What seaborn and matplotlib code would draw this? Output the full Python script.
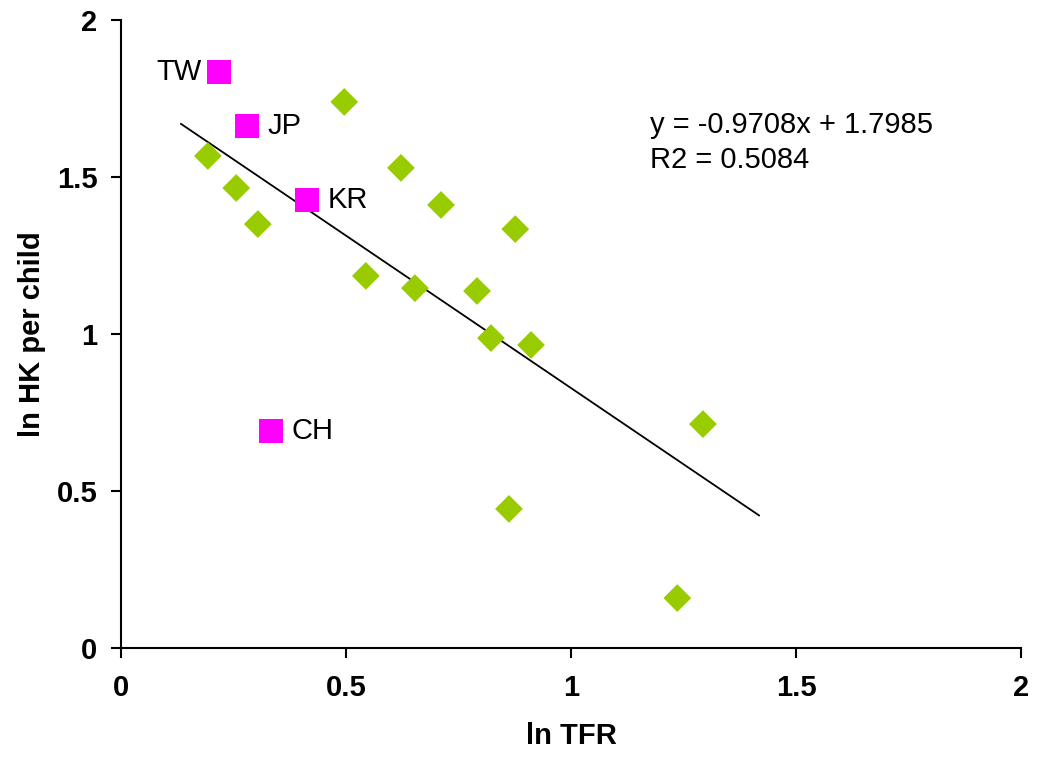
import numpy as np
import pandas as pd
import matplotlib
matplotlib.use("Agg")
import matplotlib.pyplot as plt
import seaborn as sns

# other countries (green diamonds)
other_tfr = [0.193, 0.256, 0.304, 0.496, 0.544, 0.622, 0.653, 0.711, 0.791,
             0.822, 0.876, 0.911, 0.862, 1.293, 1.236]
other_hk = [1.567, 1.465, 1.350, 1.739, 1.185, 1.529, 1.146, 1.411, 1.137,
            0.987, 1.334, 0.965, 0.443, 0.713, 0.159]

# east asian economies (pink squares)
asia_names = ['TW', 'JP', 'KR', 'CH']
asia_tfr = [0.218, 0.280, 0.413, 0.333]
asia_hk = [1.834, 1.662, 1.427, 0.691]

# linear trend as reported on the chart
slope, intercept, r2 = -0.9708, 1.7985, 0.5084
trend_x = [0.133, 1.418]

sns.set_style("white")
plt.rcParams['font.family'] = ['Liberation Sans', 'DejaVu Sans']
plt.rcParams['text.color'] = 'black'
plt.rcParams['axes.labelcolor'] = 'black'
plt.rcParams['xtick.color'] = 'black'
plt.rcParams['ytick.color'] = 'black'

fig = plt.figure(figsize=(10.37, 7.57), dpi=100)
ax = fig.add_axes([0.1167, 0.144, 0.868, 0.8296])

others = pd.DataFrame({'tfr': other_tfr, 'hk': other_hk})
asia = pd.DataFrame({'tfr': asia_tfr, 'hk': asia_hk, 'name': asia_names})
trend = pd.DataFrame({'x': trend_x, 'y': [slope * v + intercept for v in trend_x]})

sns.lineplot(data=trend, x='x', y='y', color='black', linewidth=1.3, ax=ax)
sns.scatterplot(data=others, x='tfr', y='hk', marker='D', s=200,
                color='#99CC00', edgecolor='none', ax=ax, zorder=3)
sns.scatterplot(data=asia, x='tfr', y='hk', marker='s', s=300,
                color='#FF00FF', edgecolor='none', ax=ax, zorder=3)

# country labels
for name, x, y in zip(asia_names, asia_tfr, asia_hk):
    if name == 'TW':
        ax.text(x - 0.04, y, name, ha='right', va='center', fontsize=21)
    else:
        ax.text(x + 0.045, y, name, ha='left', va='center', fontsize=21)

ax.text(1.175, 1.61, f"y = {slope}x + {intercept}\nR2 = {r2}", fontsize=21,
        va='center', ha='left', linespacing=1.3)

ax.set_xlim(0, 2)
ax.set_ylim(0, 2)
ax.set_xticks([0, 0.5, 1, 1.5, 2])
ax.set_yticks([0, 0.5, 1, 1.5, 2])
ax.set_xticklabels(['0', '0.5', '1', '1.5', '2'])
ax.set_yticklabels(['0', '0.5', '1', '1.5', '2'])
ax.tick_params(axis='both', labelsize=21, direction='out', length=7,
               width=1.5, left=True, bottom=True)
ax.tick_params(axis='x', pad=12)
ax.tick_params(axis='y', pad=10)
for lab in ax.get_xticklabels() + ax.get_yticklabels():
    lab.set_fontweight('bold')

sns.despine(ax=ax)
for side in ['left', 'bottom']:
    ax.spines[side].set_color('black')
    ax.spines[side].set_linewidth(1.5)

ax.set_xlabel('ln TFR', fontsize=21, fontweight='bold', labelpad=14)
ax.set_ylabel('ln HK per child', fontsize=21, fontweight='bold', labelpad=8)

fig.savefig('out.png', dpi=100)
